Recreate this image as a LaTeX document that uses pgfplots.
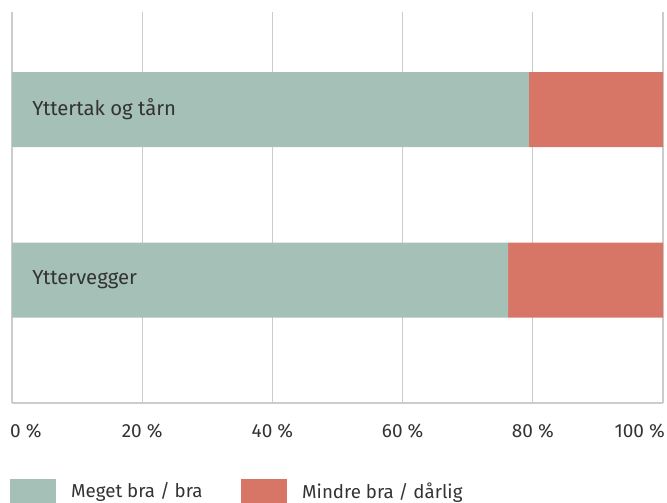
\documentclass[border=0pt]{standalone}
\usepackage{pgfplots}
\pgfplotsset{compat=1.18}
\usepackage{fontspec}
\setmainfont{Fira Sans}
\definecolor{mgreen}{HTML}{A5C0B7}
\definecolor{mred}{HTML}{D77667}
\definecolor{tgray}{HTML}{333333}
\definecolor{ggray}{HTML}{CCCCCC}
\begin{document}
\begin{tikzpicture}
\useasboundingbox (0,0) rectangle (667pt,503pt);
\begin{axis}[
  at={(12pt,100pt)}, anchor=south west,
  scale only axis, width=651pt, height=391pt,
  xbar stacked, bar width=75pt,
  xmin=0, xmax=100, ymin=-0.721, ymax=1.572,
  xtick={0,20,40,60,80,100}, xticklabels={},
  ytick=\empty,
  major tick length=0pt,
  xmajorgrids, grid style={ggray, line width=1.2pt},
  axis x line*=bottom, axis y line*=left,
  axis line style={ggray, line width=1.2pt, -},
  legend style={at={([xshift=-2pt,yshift=-88pt]axis description cs:0,0)}, anchor=west,
    draw=none, inner sep=0pt, font=\fontsize{18.7pt}{22pt}\selectfont, text=tgray,
    legend columns=2, /tikz/every even column/.append style={column sep=21pt},
    legend cell align=left},
  legend image code/.code={\fill[#1] (0pt,-12pt) rectangle (46pt,12pt);},
]
\addplot[fill=mgreen, draw=none] coordinates {(79.4,1) (76.2,0)};
\addlegendentry{\hspace{13pt}\makebox[147pt][l]{Meget bra / bra}}
\addplot[fill=mred, draw=none] coordinates {(20.6,1) (23.8,0)};
\addlegendentry{\hspace{13pt}Mindre bra / dårlig}
\coordinate (L1) at (axis cs:3.1,1);
\coordinate (L2) at (axis cs:3.1,0);
\end{axis}
\node[anchor=west, text=tgray, font=\fontsize{20.3pt}{24pt}\selectfont, inner sep=0pt] at (L1) {Yttertak og tårn};
\node[anchor=west, text=tgray, font=\fontsize{20.3pt}{24pt}\selectfont, inner sep=0pt] at (L2) {Yttervegger};
\begin{scope}[font=\fontsize{19pt}{22pt}\selectfont, text=tgray, inner sep=0pt]
\node[anchor=base west] at (10pt,65pt) {0 \%};
\node[anchor=base] at (142.2pt,65pt) {20 \%};
\node[anchor=base] at (272.4pt,65pt) {40 \%};
\node[anchor=base] at (402.6pt,65pt) {60 \%};
\node[anchor=base] at (532.8pt,65pt) {80 \%};
\node[anchor=base east] at (665pt,65pt) {100 \%};
\end{scope}
\end{tikzpicture}
\end{document}
